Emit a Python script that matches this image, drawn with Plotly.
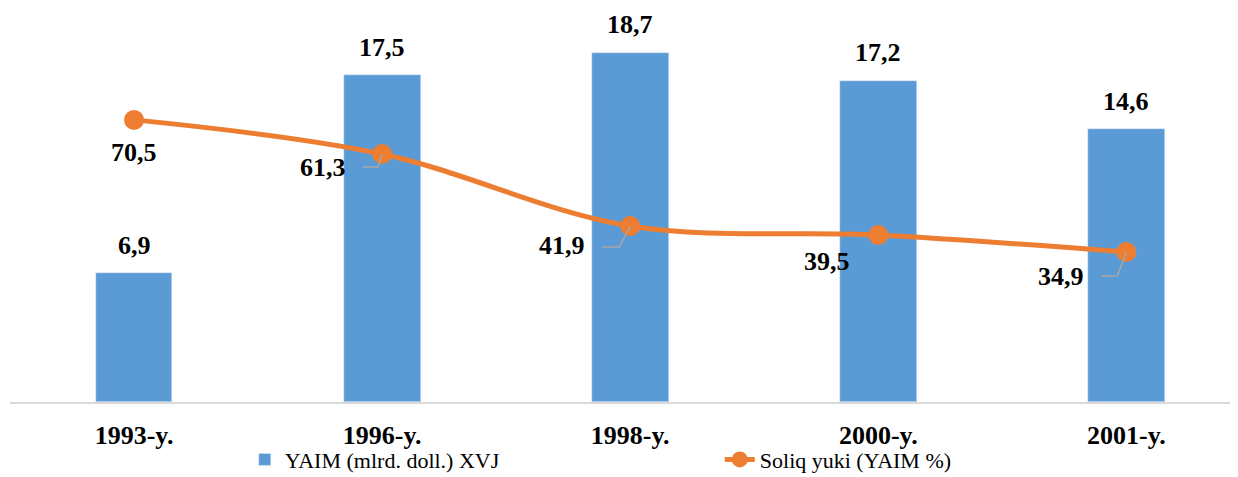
import plotly.graph_objects as go

# data
years = ["1993-y.", "1996-y.", "1998-y.", "2000-y.", "2001-y."]
yaim = [6.9, 17.5, 18.7, 17.2, 14.6]
soliq = [70.5, 61.3, 41.9, 39.5, 34.9]

BAR_COLOR = "#5B9BD5"
LINE_COLOR = "#ED7D31"
FONT = "'Liberation Serif', 'Times New Roman', serif"

def fmt(v):
    return f"{v:.1f}".replace(".", ",")

xs = list(range(len(years)))

fig = go.Figure()
fig.add_trace(go.Bar(
    x=xs, y=yaim, name="YAIM (mlrd. doll.) XVJ",
    marker=dict(color=BAR_COLOR), width=0.31,
))
fig.add_trace(go.Scatter(
    x=xs, y=soliq, name="Soliq yuki (YAIM %)", yaxis="y2",
    mode="lines+markers", line=dict(color=LINE_COLOR, width=5, shape="spline", smoothing=1),
    marker=dict(color=LINE_COLOR, size=20),
))

# bar value labels
for x, v in zip(xs, yaim):
    fig.add_annotation(x=x, y=v, yref="y", text=f"<b>{fmt(v)}</b>", showarrow=False,
                       yanchor="middle", yshift=28,
                       font=dict(family=FONT, size=26, color="black"))

# line value labels (pixel offsets from the marker)
label_shift = [(0, -33), (-59, -13), (-68, -19), (-51, -27), (-65, -24)]
for x, v, (dx, dy) in zip(xs, soliq, label_shift):
    fig.add_annotation(x=x, y=v, yref="y2", text=f"<b>{fmt(v)}</b>", showarrow=False,
                       xshift=dx, yshift=dy,
                       font=dict(family=FONT, size=26, color="black"))

# leader lines (elbow) for the displaced labels
leaders = {1: [(-4, 13), (-19, 13)], 2: [(-11, 21), (-28, 21)], 4: [(-9, 24), (-25, 24)]}
for i, pts in leaders.items():
    path = "M 0 0 " + " ".join(f"L {px} {-py}" for px, py in pts)
    fig.add_shape(type="path", xref="x", yref="y2", xsizemode="pixel", ysizemode="pixel",
                  xanchor=xs[i], yanchor=soliq[i], path=path,
                  line=dict(color="#A6A6A6", width=1.5))

fig.update_layout(
    width=1238, height=477,
    margin=dict(l=2, r=8, t=2, b=83),
    plot_bgcolor="white", paper_bgcolor="white",
    bargap=0,
    font=dict(family=FONT, color="black"),
    xaxis=dict(range=[-0.5, 4.45], tickvals=xs, ticktext=[f"<b>{y}</b>" for y in years],
               showline=True, linecolor="#D9D9D9", linewidth=2, showgrid=False,
               zeroline=False, ticks="", ticklabelstandoff=9, automargin=False,
               tickfont=dict(family=FONT, size=26, color="black")),
    yaxis=dict(range=[0, 21], visible=False, showgrid=False),
    yaxis2=dict(range=[-5.5, 100.1], overlaying="y", visible=False, showgrid=False),
    legend=dict(orientation="h", x=0.578, xanchor="center", y=-0.147, yanchor="middle",
                bgcolor="rgba(0,0,0,0)", entrywidth=430,
                font=dict(family=FONT, size=22, color="black")),
    showlegend=True,
)

fig.write_html("out.html")
